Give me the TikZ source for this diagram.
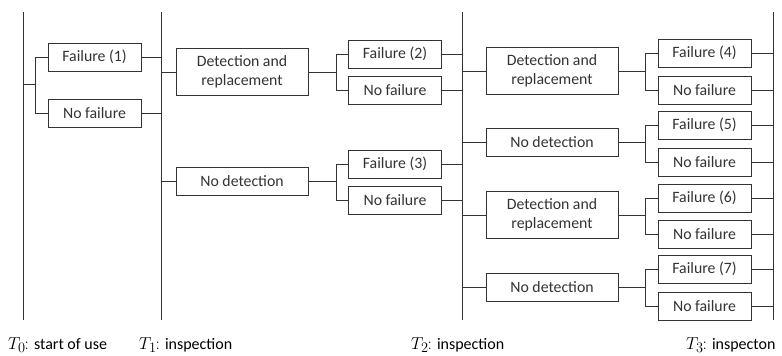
\documentclass[tikz,border=0pt]{standalone}
\usepackage{fontspec}
\setmainfont{Carlito}
\usepackage{tikz}
\usetikzlibrary{positioning, calc}

\newcommand{\timelabel}[2]{{\fontsize{19}{21}\selectfont$T_{#1}\mkern-1mu{:}$}\hspace{5pt}{\fontsize{16}{18}\selectfont #2}}

\begin{document}
\begin{tikzpicture}[
    x=1pt, y=-1pt,
    line/.style={black!80, line width=0.8pt},
    box/.style={line, draw, fill=white, font=\fontsize{15.8}{19}\selectfont, inner sep=2pt},
    small box/.style={box, minimum width=93pt, minimum height=28pt},
    wide box/.style={box, minimum width=132pt, minimum height=28pt},
    two box/.style={wide box, minimum height=47pt, align=center},
    tlabel/.style={anchor=base west, inner sep=0pt}
]
    \useasboundingbox (0,0) rectangle (782,356);

    % time axes
    \foreach \n/\x in {0/23, 1/161, 2/462, 3/773} {
        \coordinate (T\n top) at (\x, 12);
        \coordinate (T\n bot) at (\x, 320);
        \draw[line] (T\n top) -- (T\n bot);
    }
    \coordinate (T0 mid) at (23, 84);

    % start of use
    \node[small box] (f1) at (94.5, 57) {Failure (1)};
    \node[small box] (nf1) at (94.5, 113) {No failure};

    % first inspection
    \node[two box] (dr1) at (242, 72) {Detection and\\ replacement};
    \node[wide box] (nd1) at (242, 181) {No detection};

    \node[small box] (f2) at (395, 54) {Failure (2)};
    \node[small box] (nf2) at (395, 90) {No failure};
    \node[small box] (f3) at (395, 164) {Failure (3)};
    \node[small box] (nf3) at (395, 200) {No failure};

    % second inspection
    \node[two box] (dr2) at (552, 71) {Detection and\\ replacement};
    \node[wide box] (nd2) at (552, 142) {No detection};
    \node[two box] (dr3) at (552, 215) {Detection and\\ replacement};
    \node[wide box] (nd3) at (552, 287) {No detection};

    \foreach \y/\i in {53/4, 125/5, 198/6, 269/7} {
        \node[small box] (f\i) at (704.5, \y) {Failure (\i)};
    }
    \foreach \y/\i in {90/4, 162/5, 234/6, 306/7} {
        \node[small box] (nf\i) at (704.5, \y) {No failure};
    }

    % forks
    \draw[line] (f1.west) -- ++(-12,0) |- (nf1.west);
    \draw[line] (T0 mid) -- ([xshift=-12pt]f1.west |- T0 mid);
    \foreach \p/\a/\b in {dr1/f2/nf2, nd1/f3/nf3, dr2/f4/nf4, nd2/f5/nf5, dr3/f6/nf6, nd3/f7/nf7} {
        \draw[line] (\a.west) -- ++(-12,0) |- (\b.west);
        \draw[line] (\p.east) -- ([xshift=-12pt]\a.west |- \p.east);
    }

    % axis to box
    \foreach \b/\t in {dr1/T1, nd1/T1, dr2/T2, nd2/T2, dr3/T2, nd3/T2} {
        \draw[line] (\b.west -| \t top) -- (\b.west);
    }
    % box to axis
    \foreach \b/\t in {f1/T1, nf1/T1, f2/T2, nf2/T2, f3/T2, nf3/T2, f4/T3, nf4/T3, f5/T3, nf5/T3, f6/T3, nf6/T3, f7/T3, nf7/T3} {
        \draw[line] (\b.east) -- (\b.east -| \t top);
    }

    % labels
    \node[tlabel] (l0) at (8, 349) {\timelabel{0}{start of use}};
    \node[tlabel] (l1) at (139, 349) {\timelabel{1}{inspection}};
    \node[tlabel] (l2) at (411, 349) {\timelabel{2}{inspection}};
    \node[tlabel] (l3) at (686, 349) {\timelabel{3}{inspecton}};
\end{tikzpicture}
\end{document}
